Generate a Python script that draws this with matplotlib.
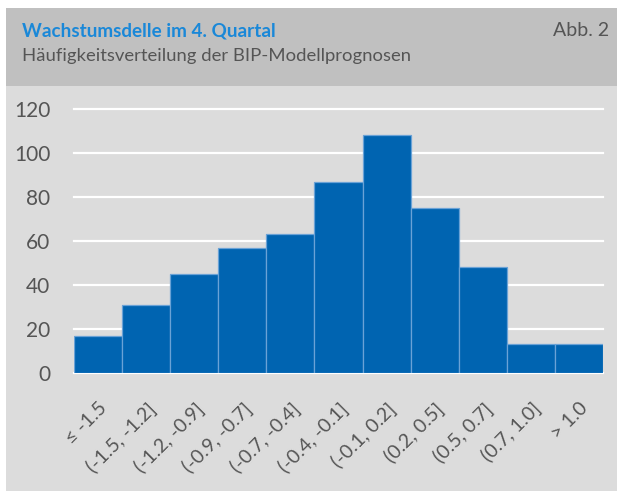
import matplotlib
matplotlib.use("Agg")
import matplotlib.pyplot as plt
from matplotlib.patches import Rectangle

categories = ["≤ -1.5", "(-1.5, -1.2]", "(-1.2, -0.9]", "(-0.9, -0.7]", "(-0.7, -0.4]",
              "(-0.4, -0.1]", "(-0.1, 0.2]", "(0.2, 0.5]", "(0.5, 0.7]", "(0.7, 1.0]", "> 1.0"]
counts = [17, 31, 45, 57, 63, 87, 108, 75, 48, 13, 13]
yticks = [0, 20, 40, 60, 80, 100, 120]

title = "Wachstumsdelle im 4. Quartal"
subtitle = "Häufigkeitsverteilung der BIP-Modellprognosen"
tag = "Abb. 2"

plt.rcParams['font.family'] = ['Lato', 'DejaVu Sans']

W, H = 617, 492
fig = plt.figure(figsize=(W / 100, H / 100), dpi=100)
fig.patch.set_facecolor("white")

def fx(px): return px / W
def fy(py): return 1 - py / H

bg = fig.add_axes([0, 0, 1, 1], zorder=-10)
bg.set_xlim(0, W)
bg.set_ylim(H, 0)
bg.axis("off")
bg.add_patch(Rectangle((6, 8), W - 6, 483, facecolor="#dcdcdc", edgecolor="none"))
bg.add_patch(Rectangle((6, 8), W - 6, 78, facecolor="#c0c0c0", edgecolor="none"))

fig.text(fx(22), fy(31), title, color="#1a88d8", fontsize=13.6, fontweight="bold", va="center", ha="left")
fig.text(fx(22), fy(56), subtitle, color="#555555", fontsize=13.3, va="center", ha="left")
fig.text(fx(609), fy(31), tag, color="#555555", fontsize=14, va="center", ha="right")

ax = fig.add_axes([fx(74), fy(373), fx(603) - fx(74), fy(109) - fy(373)], zorder=1)
ax.set_facecolor("none")
x = list(range(len(categories)))
ax.bar(x, counts, width=1.0, color="#0064b1", edgecolor="#6aa2d6", linewidth=0.9, zorder=3)
ax.set_xlim(-0.5, len(categories) - 0.5)
ax.set_ylim(0, 120)
ax.set_yticks(yticks)
ax.set_yticklabels([str(v) for v in yticks])
for v in yticks:
    ax.axhline(v, color="white", linewidth=1.6, zorder=1, clip_on=False)
for s in ax.spines.values():
    s.set_visible(False)
ax.tick_params(axis="y", length=0, pad=17, labelsize=15, labelcolor="#555555")
ax.set_xticks(x)
ax.set_xticklabels(categories, rotation=45, ha="right", va="top", rotation_mode="anchor")
ax.tick_params(axis="x", length=0, pad=19, labelsize=14, labelcolor="#555555")

fig.savefig("out.png", dpi=100, facecolor=fig.get_facecolor())
